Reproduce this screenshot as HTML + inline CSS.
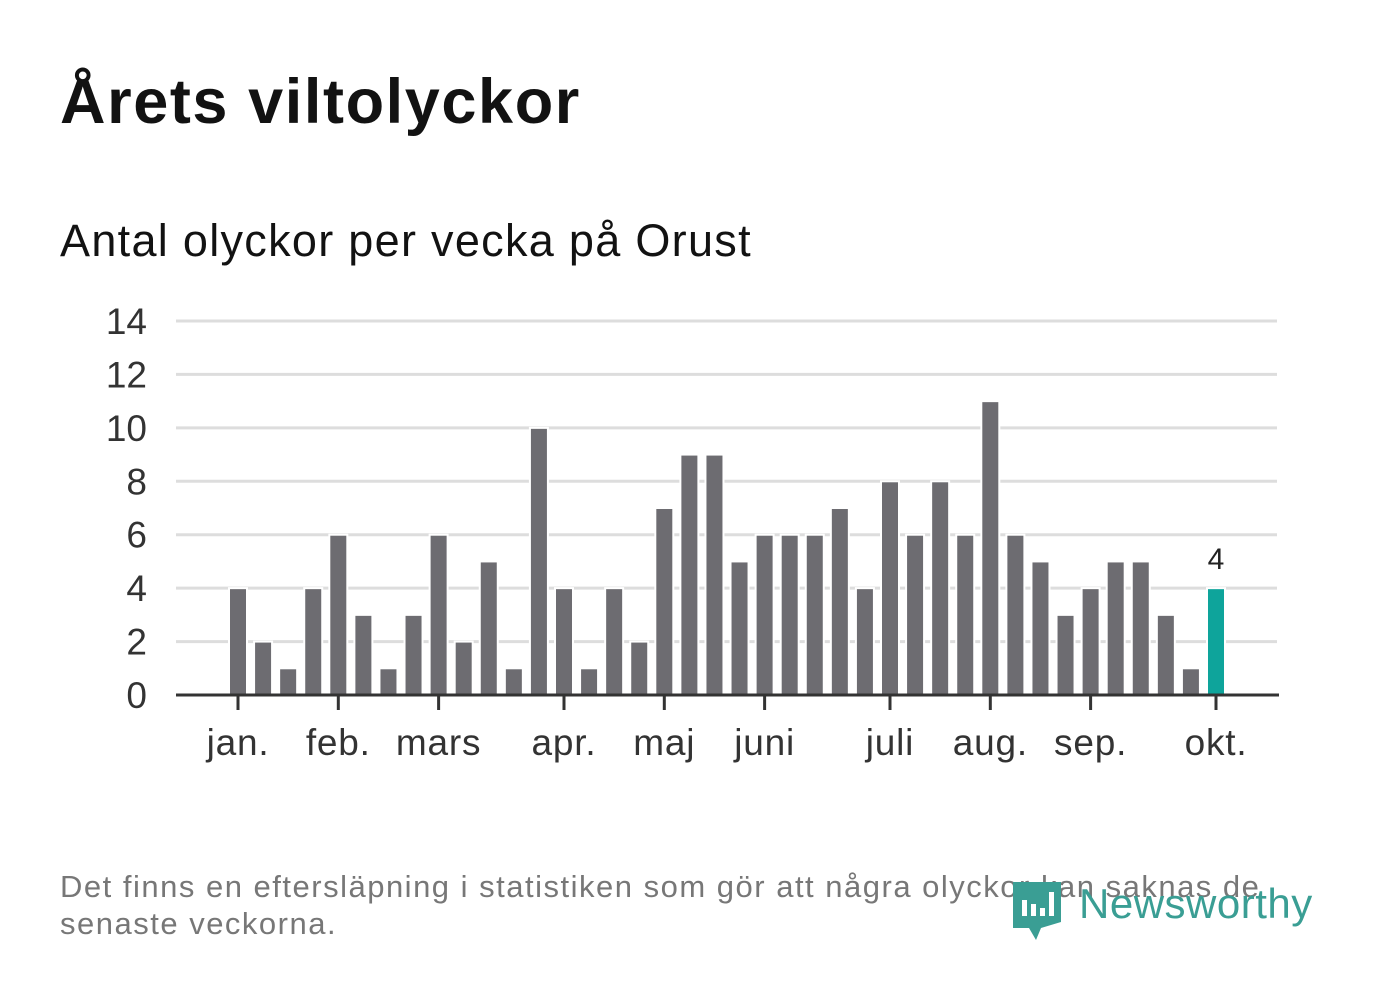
<!DOCTYPE html>
<html><head><meta charset="utf-8">
<style>
body{margin:0;width:1382px;height:999px;background:#fff;font-family:"Liberation Sans","DejaVu Sans",sans-serif;overflow:hidden;position:relative}
#title{position:absolute;left:60px;top:66px;font-size:63px;font-weight:bold;color:#121212;margin:0;letter-spacing:1.6px}
#sub{position:absolute;left:60px;top:215px;font-size:45px;color:#121212;letter-spacing:1.3px}
#note{position:absolute;left:60px;top:868px;font-size:31px;color:#777;line-height:37px;width:1250px;letter-spacing:1.5px}
svg{position:absolute;left:0;top:0}
</style></head><body>
<h1 id="title">Årets viltolyckor</h1>
<div id="sub">Antal olyckor per vecka på Orust</div>
<svg id="chart" width="1382" height="999"></svg>
<div id="note">Det finns en eftersläpning i statistiken som gör att några olyckor kan saknas de senaste veckorna.</div>
<svg width="1382" height="999" style="pointer-events:none">
<path d="M1013 882 h48 v40 l-20 6 l-5 12 l-7 -12 h-16 z" fill="#3a9e94"/>
<rect x="1022" y="900" width="5" height="16" fill="#fff"/><rect x="1031" y="904" width="5" height="12" fill="#fff"/><rect x="1040" y="908" width="5" height="8" fill="#fff"/><rect x="1049" y="892" width="5" height="24" fill="#fff"/>
<text x="1079" y="918" font-size="42" fill="#3a9e94" font-family="Liberation Sans, sans-serif" letter-spacing="0.5">Newsworthy</text>
</svg>
<script>
const values=[4,2,1,4,6,3,1,3,6,2,5,1,10,4,1,4,2,7,9,9,5,6,6,6,7,4,8,6,8,6,11,6,5,3,4,5,5,3,1,4];
const monthLabels=["jan.","feb.","mars","apr.","maj","juni","juli","aug.","sep.","okt."];
const monthIndex=[0,4,8,13,17,21,26,30,34,39];
const yTicks=[0,2,4,6,8,10,12,14];
const svg=document.getElementById('chart');
const NS="http://www.w3.org/2000/svg";
const x0=238,step=(1216-238)/39,bw=18;
const y=v=>695-v*(695-321)/14;
const xi=i=>x0+i*step;
function mk(t,a){const e=document.createElementNS(NS,t);for(const k in a)e.setAttribute(k,a[k]);svg.appendChild(e);return e;}
yTicks.forEach(t=>{
  if(t>0){const g=mk('line',{x1:176,x2:1277,y1:y(t),y2:y(t),stroke:'#dddddd','stroke-width':3});
  
  }
  const l=mk('text',{x:147,y:y(t)+13,'text-anchor':'end','font-size':37,fill:'#333'});l.textContent=t;
  
  
});
values.forEach((v,i)=>{
  const last=i===values.length-1;
  const r=mk('rect',{x:xi(i)-bw/2,y:y(v),width:bw,height:695-y(v),fill:last?'#0ea49b':'#6d6c71',stroke:'#fff','stroke-width':2});
  
  
  if(last){const t=mk('text',{x:xi(i),y:y(v)-19,'text-anchor':'middle','font-size':30,fill:'#222'});t.textContent=v;
  
  }
});
const ax=mk('line',{x1:176,x2:1279,y1:695,y2:695,stroke:'#333','stroke-width':3});


monthIndex.forEach((m,k)=>{
  const tk=mk('line',{x1:xi(m),x2:xi(m),y1:695,y2:710,stroke:'#333','stroke-width':3});
  
  
  const l=mk('text',{x:xi(m),y:755,'text-anchor':'middle','font-size':37,fill:'#333','letter-spacing':0.8});l.textContent=monthLabels[k];
  
  
});
</script>
</body></html>
